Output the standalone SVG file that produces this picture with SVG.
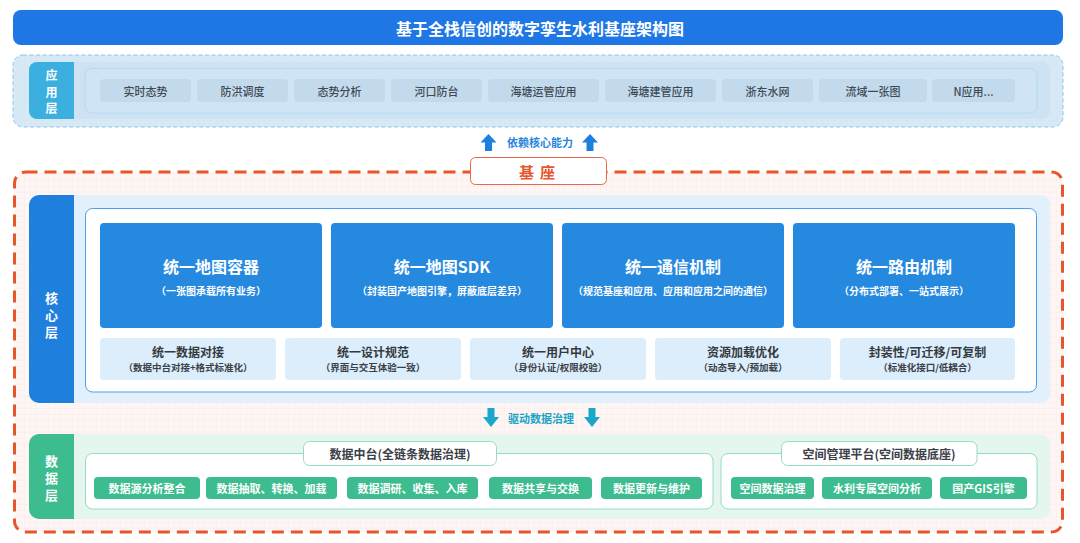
<svg xmlns="http://www.w3.org/2000/svg" width="1080" height="543" viewBox="0 0 1080 543">
  <defs>
    <pattern id="gridBlue" width="6" height="6" patternUnits="userSpaceOnUse">
      <rect width="6" height="6" fill="#D8E9F6"/>
      <path d="M6 0H0V6" fill="none" stroke="#C9DFEF" stroke-width="0.6"/>
    </pattern>
    <pattern id="gridPink" width="6" height="6" patternUnits="userSpaceOnUse">
      <rect width="6" height="6" fill="#FDF6F5"/>
      <path d="M6 0H0V6" fill="none" stroke="#F7E3E1" stroke-width="0.6"/>
    </pattern>
    <style>
      text { font-family: "Noto Sans CJK SC", "Noto Sans", "Liberation Sans", sans-serif; text-anchor: middle; dominant-baseline: central; }
      .title { fill: #FFFFFF; font-size: 16px; font-weight: 700; }
      .vlabel { fill: #FFFFFF; font-size: 13px; font-weight: 700; }
      .vlabelS { fill: #FFFFFF; font-size: 12px; font-weight: 700; }
      .appItem { fill: #C3DAEC; }
      .appText { fill: #3F4A55; font-size: 11px; font-weight: 500; }
      .coreBig { fill: #2589E0; }
      .coreBigT { fill: #FFFFFF; font-size: 16px; font-weight: 700; }
      .coreBigS { fill: #FFFFFF; font-size: 10px; font-weight: 700; }
      .coreSmall { fill: #DCEDFB; }
      .coreSmallT { fill: #333A40; font-size: 12px; font-weight: 700; }
      .coreSmallS { fill: #3A4148; font-size: 9.5px; font-weight: 700; }
      .panel { fill: #FFFFFF; stroke: #95DDBF; stroke-width: 1; }
      .panelT { fill: #3A4048; font-size: 12px; font-weight: 700; }
      .greenItem { fill: #3DBD8F; }
      .greenText { fill: #FFFFFF; font-size: 11px; font-weight: 700; }
      .upArrow { fill: #1E80DE; }
      .downArrow { fill: #1AA7C9; }
    </style>
  </defs>

  <!-- Title -->
  <g id="title">
    <rect x="13" y="10" width="1050" height="35" rx="8" fill="#1E77E4"/>
    <text class="title" x="540" y="27.5">基于全栈信创的数字孪生水利基座架构图</text>
  </g>

  <!-- Application layer -->
  <g id="app-layer">
    <rect x="13" y="55" width="1050" height="72" rx="10" fill="url(#gridBlue)" stroke="#8CC8EC" stroke-width="1" stroke-dasharray="4 2.5"/>
    <rect x="29" y="62" width="1021" height="57" rx="8" fill="#CDE3F4"/>
    <path d="M37 62H74V119H37A8 8 0 0 1 29 111V70A8 8 0 0 1 37 62Z" fill="#3AAFE0"/>
    <text class="vlabelS" x="51.5" y="74.5">应</text>
    <text class="vlabelS" x="51.5" y="91">用</text>
    <text class="vlabelS" x="51.5" y="107.5">层</text>
    <rect x="85" y="68.5" width="952" height="44.5" rx="7" fill="#CFE5F5" stroke="#B3D8F0" stroke-width="1"/>
  </g>
  <g id="app-1"><rect class="appItem" x="100" y="79" width="91" height="23" rx="4"/><text class="appText" x="145.5" y="90.5">实时态势</text></g>
  <g id="app-2"><rect class="appItem" x="197" y="79" width="91" height="23" rx="4"/><text class="appText" x="242.5" y="90.5">防洪调度</text></g>
  <g id="app-3"><rect class="appItem" x="294" y="79" width="91" height="23" rx="4"/><text class="appText" x="339.5" y="90.5">态势分析</text></g>
  <g id="app-4"><rect class="appItem" x="391" y="79" width="91" height="23" rx="4"/><text class="appText" x="436.5" y="90.5">河口防台</text></g>
  <g id="app-5"><rect class="appItem" x="488" y="79" width="111" height="23" rx="4"/><text class="appText" x="543.5" y="90.5">海塘运管应用</text></g>
  <g id="app-6"><rect class="appItem" x="605" y="79" width="111" height="23" rx="4"/><text class="appText" x="660.5" y="90.5">海塘建管应用</text></g>
  <g id="app-7"><rect class="appItem" x="722" y="79" width="91" height="23" rx="4"/><text class="appText" x="767.5" y="90.5">浙东水网</text></g>
  <g id="app-8"><rect class="appItem" x="819" y="79" width="108" height="23" rx="4"/><text class="appText" x="873" y="90.5">流域一张图</text></g>
  <g id="app-9"><rect class="appItem" x="932" y="79" width="83" height="23" rx="4"/><text class="appText" x="973.5" y="90.5">N应用...</text></g>

  <!-- Base (orange dashed container) -->
  <g id="base">
    <rect x="14.5" y="172" width="1048" height="360" rx="11" fill="url(#gridPink)" stroke="#E5572B" stroke-width="3" stroke-dasharray="12 7"/>
    <rect x="470.5" y="157.5" width="136" height="27" rx="5" fill="#FFFFFF" stroke="#E8664A" stroke-width="1"/>
    <text x="540" y="171" style="fill:#E4562B;font-size:15px;font-weight:700;" letter-spacing="6">基座</text>
  </g>

  <!-- Core layer -->
  <g id="core-layer">
    <rect x="29" y="195" width="1021" height="208" rx="9" fill="#E2F0FB"/>
    <path d="M39 195H74V403H39A10 10 0 0 1 29 393V205A10 10 0 0 1 39 195Z" fill="#1F7FDD"/>
    <text class="vlabel" x="51.5" y="297">核</text>
    <text class="vlabel" x="51.5" y="314">心</text>
    <text class="vlabel" x="51.5" y="331">层</text>
    <rect x="85.5" y="208.5" width="951" height="183.5" rx="7" fill="#FFFFFF" stroke="#4C9DEA" stroke-width="1"/>
  </g>
  <g id="core-1"><rect class="coreBig" x="100" y="223" width="222" height="105" rx="4"/><text class="coreBigT" x="211" y="265.5">统一地图容器</text><text class="coreBigS" x="211" y="290">（一张图承载所有业务）</text></g>
  <g id="core-2"><rect class="coreBig" x="331" y="223" width="222" height="105" rx="4"/><text class="coreBigT" x="442" y="265.5">统一地图SDK</text><text class="coreBigS" x="442" y="290">（封装国产地图引擎，屏蔽底层差异）</text></g>
  <g id="core-3"><rect class="coreBig" x="562" y="223" width="222" height="105" rx="4"/><text class="coreBigT" x="673" y="265.5">统一通信机制</text><text class="coreBigS" x="673" y="290">（规范基座和应用、应用和应用之间的通信）</text></g>
  <g id="core-4"><rect class="coreBig" x="793" y="223" width="222" height="105" rx="4"/><text class="coreBigT" x="904" y="265.5">统一路由机制</text><text class="coreBigS" x="904" y="290">（分布式部署、一站式展示）</text></g>

  <g id="core-5"><rect class="coreSmall" x="100" y="338" width="176" height="42" rx="4"/><text class="coreSmallT" x="188" y="351">统一数据对接</text><text class="coreSmallS" x="188" y="366.5">（数据中台对接+格式标准化）</text></g>
  <g id="core-6"><rect class="coreSmall" x="285" y="338" width="176" height="42" rx="4"/><text class="coreSmallT" x="373" y="351">统一设计规范</text><text class="coreSmallS" x="373" y="366.5">（界面与交互体验一致）</text></g>
  <g id="core-7"><rect class="coreSmall" x="470" y="338" width="176" height="42" rx="4"/><text class="coreSmallT" x="558" y="351">统一用户中心</text><text class="coreSmallS" x="558" y="366.5">（身份认证/权限校验）</text></g>
  <g id="core-8"><rect class="coreSmall" x="655" y="338" width="176" height="42" rx="4"/><text class="coreSmallT" x="743" y="351">资源加载优化</text><text class="coreSmallS" x="743" y="366.5">（动态导入/预加载）</text></g>
  <g id="core-9"><rect class="coreSmall" x="840" y="338" width="175" height="42" rx="4"/><text class="coreSmallT" x="927.5" y="351">封装性/可迁移/可复制</text><text class="coreSmallS" x="927.5" y="366.5">（标准化接口/低耦合）</text></g>

  <!-- Data layer -->
  <g id="data-layer">
    <rect x="29" y="434" width="1021" height="85" rx="9" fill="#E4F6EE"/>
    <path d="M39 434H74V519H39A10 10 0 0 1 29 509V444A10 10 0 0 1 39 434Z" fill="#3DBD8F"/>
    <text class="vlabel" x="51.5" y="460">数</text>
    <text class="vlabel" x="51.5" y="477">据</text>
    <text class="vlabel" x="51.5" y="494">层</text>
  </g>
  <g id="data-platform">
    <rect class="panel" x="85.5" y="453.5" width="627.5" height="55.5" rx="7"/>
    <rect class="panel" x="303.5" y="441.5" width="193" height="24" rx="6"/>
    <text class="panelT" x="400" y="453">数据中台(全链条数据治理)</text>
  </g>
  <g id="data-1"><rect class="greenItem" x="94" y="477" width="106" height="22" rx="4"/><text class="greenText" x="147" y="488">数据源分析整合</text></g>
  <g id="data-2"><rect class="greenItem" x="206" y="477" width="131" height="22" rx="4"/><text class="greenText" x="271.5" y="488">数据抽取、转换、加载</text></g>
  <g id="data-3"><rect class="greenItem" x="347" y="477" width="131" height="22" rx="4"/><text class="greenText" x="412.5" y="488">数据调研、收集、入库</text></g>
  <g id="data-4"><rect class="greenItem" x="489" y="477" width="103" height="22" rx="4"/><text class="greenText" x="540.5" y="488">数据共享与交换</text></g>
  <g id="data-5"><rect class="greenItem" x="601" y="477" width="101" height="22" rx="4"/><text class="greenText" x="651.5" y="488">数据更新与维护</text></g>

  <g id="spatial-platform">
    <rect class="panel" x="721" y="453.5" width="316" height="55.5" rx="7"/>
    <rect class="panel" x="781.5" y="441.5" width="195.5" height="24" rx="6"/>
    <text class="panelT" x="879" y="453">空间管理平台(空间数据底座)</text>
  </g>
  <g id="spatial-1"><rect class="greenItem" x="731" y="477" width="83" height="22" rx="4"/><text class="greenText" x="772.5" y="488">空间数据治理</text></g>
  <g id="spatial-2"><rect class="greenItem" x="822" y="477" width="110" height="22" rx="4"/><text class="greenText" x="877" y="488">水利专属空间分析</text></g>
  <g id="spatial-3"><rect class="greenItem" x="940" y="477" width="87" height="22" rx="4"/><text class="greenText" x="983.5" y="488">国产GIS引擎</text></g>

  <!-- Connectors -->
  <g id="connectors">
    <path class="upArrow" d="M488.5 134L496.5 142.5H492V151H485V142.5H480.5Z"/>
    <path class="upArrow" d="M590 134L598 142.5H593.5V151H586.5V142.5H582Z"/>
    <text x="540" y="141.5" style="fill:#2A84DC;font-size:11px;font-weight:700;">依赖核心能力</text>
    <path class="downArrow" d="M487.5 408H494.5V417H499L491 427L483 417H487.5Z"/>
    <path class="downArrow" d="M588.5 408H595.5V417H600L592 427L584 417H588.5Z"/>
    <text x="541" y="418" style="fill:#1AA3C6;font-size:11px;font-weight:700;">驱动数据治理</text>
  </g>
</svg>
